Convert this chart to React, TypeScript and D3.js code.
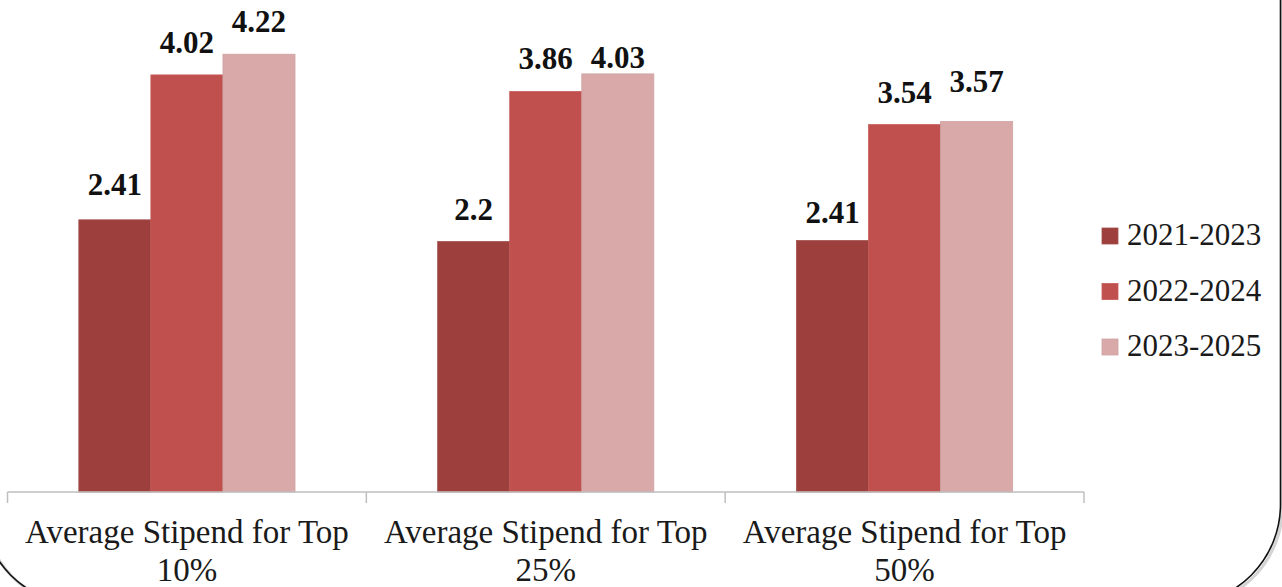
import React from "react";
import * as d3 from "d3";

const categories = ["Average Stipend for Top|10%", "Average Stipend for Top|25%", "Average Stipend for Top|50%"];
const seriesNames = ["2021-2023", "2022-2024", "2023-2025"];
// bar heights as drawn in the picture
const s2021 = [2.62, 2.41, 2.42];
const s2022 = [4.02, 3.86, 3.54];
const s2023 = [4.22, 4.03, 3.57];
// data labels as printed in the picture
const l2021 = ["2.41", "2.2", "2.41"];
const l2022 = ["4.02", "3.86", "3.54"];
const l2023 = ["4.22", "4.03", "3.57"];

const colors = ["#9c3f3d", "#c0504d", "#d9a9a9"];
const strokes = ["#a2504e", "#c55b58", "#cfa3a3"];
// layout: manual label nudges (px) per series/category, as placed in the reference
const labelNudge = [
  [-3, 0, 4],
  [0, 0, 0],
  [0, 16, -8],
];

const W = 1282;
const H = 587;
const FONT = "Liberation Serif";

export default function App() {
  const series = [s2021, s2022, s2023];
  const labels = [l2021, l2022, l2023];
  const x0 = d3.scaleBand<string>().domain(categories).range([7.5, 1084]).paddingInner(0).paddingOuter(0);
  const x1 = d3.scaleBand<string>().domain(seriesNames).range([0, x0.bandwidth()]).paddingInner(0).paddingOuter(0.99);
  const y = d3.scaleLinear().domain([0, 4.5]).range([491, 491 - 4.5 * 103.5]);
  const axisY = 492;

  const r = 100;
  const left = -18.5, right = 1280.5, bottom = 604.5, top = -200;

  return (
    <svg width={W} height={H} style={{ position: "absolute", left: 0, top: 0, background: "#fff" }}>
      <rect x={0} y={0} width={W} height={H} fill="#ffffff" />
      <rect x={left + 2} y={top} width={right - left} height={bottom - top + 2} rx={r} ry={r} fill="none" stroke="#d4d4d4" strokeWidth={3} />
      <rect x={left} y={top} width={right - left} height={bottom - top} rx={r} ry={r} fill="none" stroke="#111" strokeWidth={1.6} />

      {categories.map((c, ci) => (
        <g key={c + ci} transform={`translate(${x0(c)},0)`}>
          {seriesNames.map((s, si) => {
            const v = series[si][ci];
            const bx = x1(s)!;
            return (
              <g key={s}>
                <rect x={bx} y={y(v)} width={x1.bandwidth()} height={y(0) - y(v) + 1} fill={colors[si]} stroke={strokes[si]} strokeWidth={0.8} />
                <text x={bx + x1.bandwidth() / 2} y={y(v) - 22 + labelNudge[si][ci]} textAnchor="middle" fontFamily={FONT} fontWeight="bold" fontSize={31} fill="#111">
                  {labels[si][ci]}
                </text>
              </g>
            );
          })}
        </g>
      ))}

      <line x1={x0.range()[0]} x2={x0.range()[1]} y1={axisY} y2={axisY} stroke="#bfbfbf" strokeWidth={1.5} />
      {[...categories.map((c) => x0(c)!), x0.range()[1]].map((tx, i) => (
        <line key={i} x1={tx} x2={tx} y1={axisY} y2={axisY + 11} stroke="#bfbfbf" strokeWidth={1.5} />
      ))}
      {categories.map((c, ci) => {
        const lines = c.split("|");
        const cx = x0(c)! + x0.bandwidth() / 2;
        return (
          <g key={ci}>
            {lines.map((ln, li) => (
              <text key={li} x={cx} y={543 + li * 38} textAnchor="middle" fontFamily={FONT} fontSize={33} fill="#1a1a1a">{ln}</text>
            ))}
          </g>
        );
      })}

      {seriesNames.map((s, si) => (
        <g key={s} transform={`translate(1102, ${228 + si * 55.5})`}>
          <rect x={0} y={0} width={16} height={16} fill={colors[si]} stroke={strokes[si]} strokeWidth={0.8} />
          <text x={25} y={17} fontFamily={FONT} fontSize={31} fill="#1a1a1a">{s}</text>
        </g>
      ))}
    </svg>
  );
}
